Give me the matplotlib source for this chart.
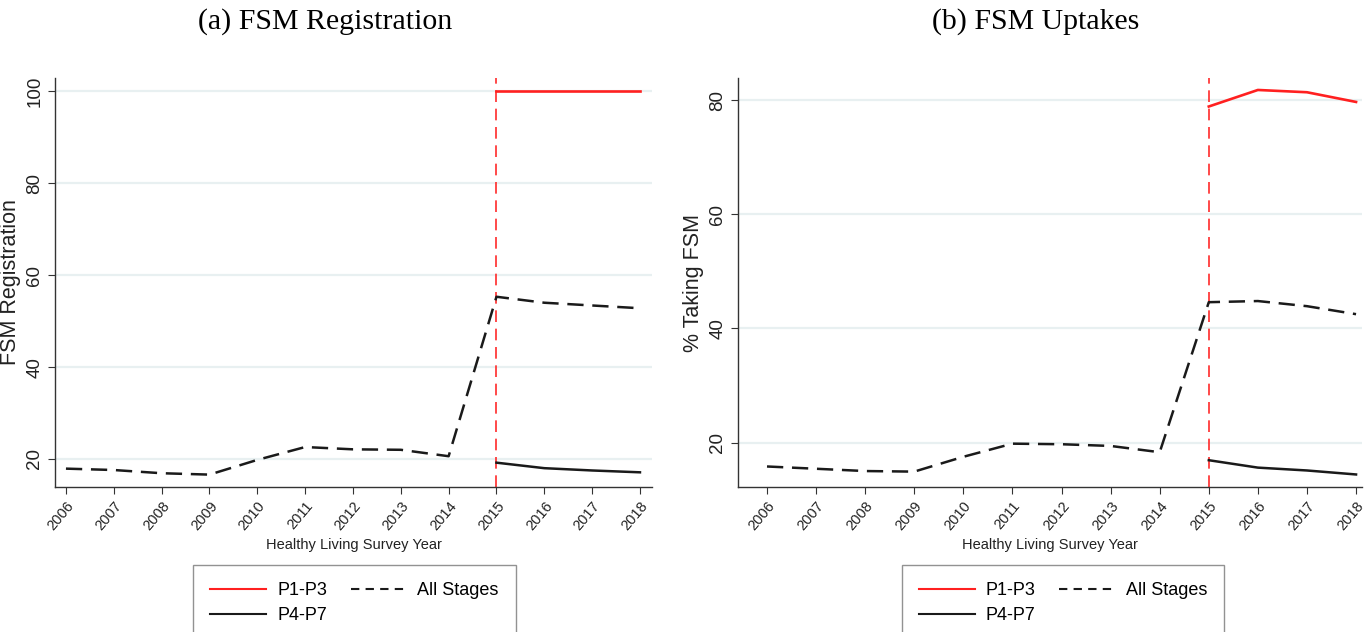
import matplotlib.pyplot as plt
from matplotlib.lines import Line2D

years = [2006, 2007, 2008, 2009, 2010, 2011, 2012, 2013, 2014, 2015, 2016, 2017, 2018]
post_years = [2015, 2016, 2017, 2018]

# (a) FSM Registration
reg_all = [17.9, 17.6, 16.9, 16.6, 19.8, 22.6, 22.1, 22.0, 20.6, 55.3, 54.0, 53.4, 52.8]
reg_p1p3 = [100, 100, 100, 100]
reg_p4p7 = [19.2, 18.0, 17.5, 17.1]

# (b) FSM Uptakes
up_all = [15.8, 15.4, 15.0, 14.9, 17.5, 19.8, 19.7, 19.4, 18.3, 44.6, 44.8, 43.9, 42.5]
up_p1p3 = [78.9, 81.8, 81.4, 79.7]
up_p4p7 = [16.9, 15.6, 15.1, 14.4]

policy_year = 2015

titles = ["(a) FSM Registration", "(b) FSM Uptakes"]
ylabels = ["FSM Registration", "% Taking FSM"]
yticks = [[20, 40, 60, 80, 100], [20, 40, 60, 80]]
ylims = [(13.9, 102.9), (12.2, 83.9)]
xlims = [(2005.77, 2018.25), (2005.41, 2018.12)]

sans = ["Liberation Sans", "DejaVu Sans"]
serif = ["Liberation Serif", "DejaVu Serif"]

fig = plt.figure(figsize=(13.67, 6.32), dpi=100)
ax_a = fig.add_axes([0.0402, 0.2294, 0.4367, 0.6472])
ax_b = fig.add_axes([0.5399, 0.2294, 0.4564, 0.6472])

data = [(reg_p1p3, reg_p4p7, reg_all), (up_p1p3, up_p4p7, up_all)]
title_x = [0.2378, 0.758]
legend_x = [0.2594, 0.7775]

for i, ax in enumerate([ax_a, ax_b]):
    p1p3, p4p7, allst = data[i]
    ax.set_xlim(*xlims[i])
    ax.set_ylim(*ylims[i])
    for t in yticks[i]:
        ax.axhline(t, color="#e8f0f1", lw=1.6, zorder=0)
    ax.axvline(policy_year, color="#ff2a2a", lw=1.2, dashes=(7, 4), zorder=1)
    ax.plot(years, allst, color="#1a1a1a", lw=1.8, dashes=(6.5, 3.5))
    ax.plot(post_years, p4p7, color="#1a1a1a", lw=1.8)
    ax.plot(post_years, p1p3, color="#ff2020", lw=1.9)

    ax.spines["top"].set_visible(False)
    ax.spines["right"].set_visible(False)
    for s in ["left", "bottom"]:
        ax.spines[s].set_color("#333333")
        ax.spines[s].set_linewidth(1.0)

    ax.set_yticks(yticks[i])
    ax.set_yticklabels([str(t) for t in yticks[i]], rotation=90, va="center",
                       family=sans, fontsize=13.5, color="#222222")
    ax.set_xticks(years)
    ax.set_xticklabels([str(y) for y in years], rotation=50, ha="right",
                       rotation_mode="anchor", family=sans, fontsize=10.5,
                       color="#222222")
    ax.tick_params(axis="both", direction="out", length=5, color="#333333")
    ax.set_ylabel(ylabels[i], family=sans, fontsize=15.5, color="#222222", labelpad=4)
    ax.set_xlabel("Healthy Living Survey Year", family=sans, fontsize=10.5,
                  color="#222222", labelpad=4)

    fig.text(title_x[i], 0.966, titles[i], family=serif, fontsize=21.5,
             ha="center", va="center")

    handles = [Line2D([], [], color="#ff2020", lw=1.5),
               Line2D([], [], color="#1a1a1a", lw=1.5),
               Line2D([], [], color="#1a1a1a", lw=1.5, dashes=(4, 3))]
    leg = fig.legend(handles, ["P1-P3", "P4-P7", "All Stages"], ncol=2,
                     loc="upper center", bbox_to_anchor=(legend_x[i], 0.106),
                     frameon=True, fancybox=False, handlelength=3.1,
                     handletextpad=0.6, columnspacing=1.3, borderpad=0.95,
                     labelspacing=0.45, borderaxespad=0,
                     prop={"family": sans, "size": 13})
    leg.get_frame().set_edgecolor("#777777")
    leg.get_frame().set_linewidth(1.0)

fig.savefig("out.png", dpi=100)
